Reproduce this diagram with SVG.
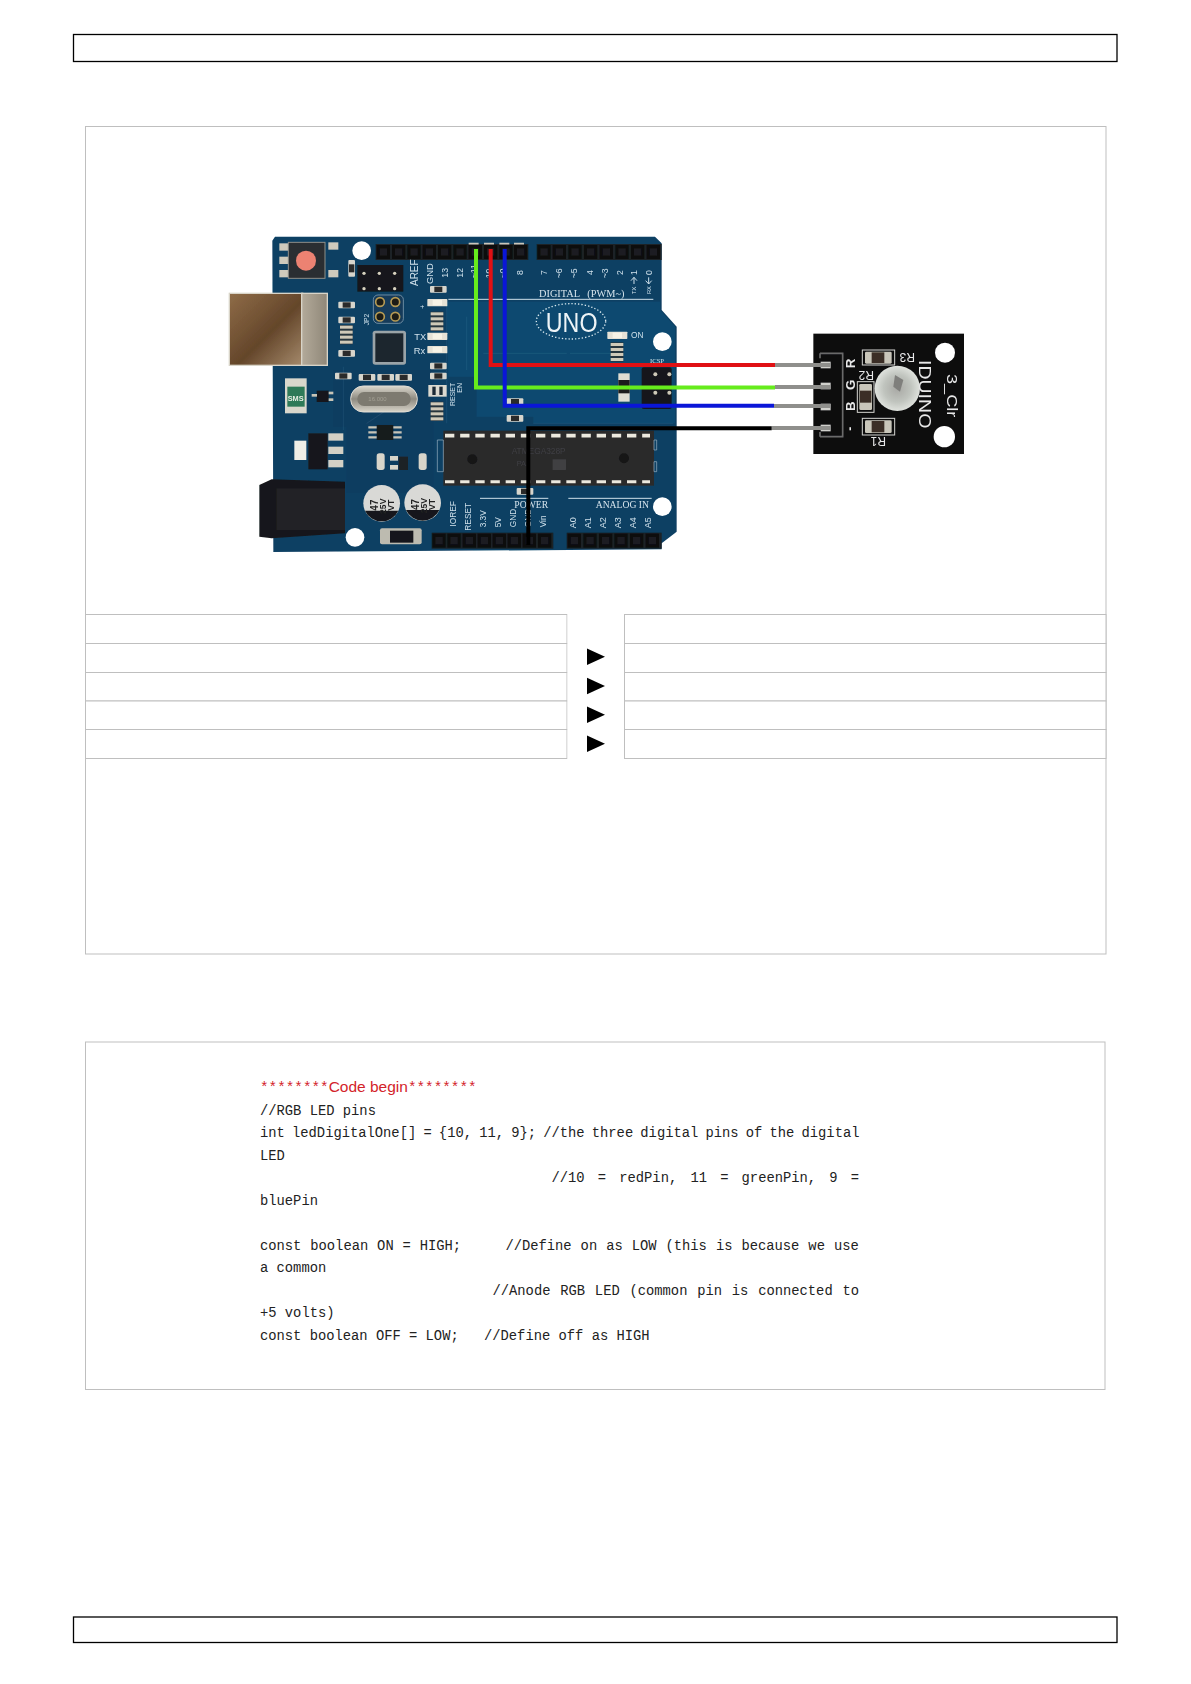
<svg xmlns="http://www.w3.org/2000/svg" width="1191" height="1684" viewBox="0 0 1191 1684">
<style>
.frame{fill:none;stroke:#000;stroke-width:1.3}
.cell{fill:#fff;stroke:#bfbfbf;stroke-width:1}
.code{font-family:"Liberation Mono","DejaVu Sans Mono",monospace;font-size:13.8px;fill:#222}
.red{fill:#d3232a}
.wire{fill:none;stroke-width:4;stroke-linejoin:miter}
.pin{stroke:#8f8f8c;stroke-width:4;fill:none}
.silk{font-family:"Liberation Sans",Arial,sans-serif;font-size:26px;fill:#cfe0ea}
.serif{font-family:"Liberation Serif","Times New Roman",serif;font-size:31px;fill:#d6e4ec}
.sline{stroke:#cfe0ea;stroke-width:3;fill:none}
.hole{fill:#fff}
.mod{font-family:"Liberation Sans",Arial,sans-serif;fill:#e8e8e8}
</style>
<defs>
<linearGradient id="usb" x1="0" y1="0" x2="1" y2="1"><stop offset="0" stop-color="#8f6c48"/><stop offset=".55" stop-color="#64462a"/><stop offset="1" stop-color="#a58a6c"/></linearGradient>
<linearGradient id="usb2" x1="0" y1="0" x2="1" y2="0"><stop offset="0" stop-color="#b3aa9a"/><stop offset="1" stop-color="#8f8778"/></linearGradient>
<linearGradient id="xtal" x1="0" y1="0" x2="0" y2="1"><stop offset="0" stop-color="#dcd8cd"/><stop offset=".5" stop-color="#8d8a80"/><stop offset="1" stop-color="#d8d4c9"/></linearGradient>
<radialGradient id="led"><stop offset="0" stop-color="#a8a8a4"/><stop offset=".6" stop-color="#c0c4be"/><stop offset="1" stop-color="#dfe2dd"/></radialGradient>
<filter id="soft" x="-5%" y="-5%" width="110%" height="110%"><feGaussianBlur stdDeviation="0.8"/></filter>
<g id="hp"><rect width="40" height="42" fill="#0b0d0f"/><rect x="9" y="10" width="22" height="22" fill="#1a1d20"/></g>
<g id="smd"><rect width="50" height="20" rx="3" fill="#d7d5cc"/><rect x="13" y="2" width="24" height="16" fill="#2a2a2a"/></g>
<g id="led0"><rect width="60" height="22" rx="2" fill="#e6e2d6"/><rect x="16" y="3" width="28" height="16" fill="#f7f3e6"/></g>
<g id="rn"><rect width="38" height="58" fill="#27343c"/><rect y="2" width="38" height="9" fill="#cfc9b8"/><rect y="17" width="38" height="9" fill="#cfc9b8"/><rect y="32" width="38" height="9" fill="#cfc9b8"/><rect y="47" width="38" height="9" fill="#cfc9b8"/></g>
<g id="cap"><circle r="55" fill="#d9d9d6"/><path d="M-50,22A55,55 0 0 0 50,22Z" fill="#15181b"/><text transform="translate(-12,22) rotate(-90)" font-family="Liberation Sans,sans-serif" font-size="30" font-weight="bold" fill="#222">47</text><text transform="translate(14,32) rotate(-90)" font-family="Liberation Sans,sans-serif" font-size="26" font-weight="bold" fill="#222">25V</text><text transform="translate(38,22) rotate(-90)" font-family="Liberation Sans,sans-serif" font-size="26" font-weight="bold" fill="#222">VT</text></g>
</defs>

<g id="page-header"><rect class="frame" x="73.5" y="34.5" width="1043.5" height="27"/></g>
<g id="page-footer"><rect class="frame" x="73.5" y="1617" width="1043.5" height="25.5"/></g>

<g id="wiring-panel">
<rect class="cell" x="85.5" y="126.5" width="1020.5" height="827.5"/>
</g>

<g id="pin-table">
<rect class="cell" x="85.5" y="614.5" width="481.5" height="29"/>
<rect class="cell" x="85.5" y="643.5" width="481.5" height="29"/>
<rect class="cell" x="85.5" y="672.5" width="481.5" height="28.5"/>
<rect class="cell" x="85.5" y="701" width="481.5" height="28.5"/>
<rect class="cell" x="85.5" y="729.5" width="481.5" height="29"/>
<rect class="cell" x="624.5" y="614.5" width="481.5" height="29"/>
<rect class="cell" x="624.5" y="643.5" width="481.5" height="29"/>
<rect class="cell" x="624.5" y="672.5" width="481.5" height="28.5"/>
<rect class="cell" x="624.5" y="701" width="481.5" height="28.5"/>
<rect class="cell" x="624.5" y="729.5" width="481.5" height="29"/>
<rect x="567.5" y="614" width="56.5" height="145" fill="#fff"/>
<path id="a1" d="M587,648.5L605,656.7L587,665Z" fill="#000"/>
<path id="a2" d="M587,677.7L605,686L587,694.2Z" fill="#000"/>
<path id="a3" d="M587,706.5L605,714.7L587,723Z" fill="#000"/>
<path id="a4" d="M587,735.5L605,743.7L587,752Z" fill="#000"/>
</g>

<g id="arduino-uno" transform="translate(200,210) scale(0.33333)" filter="url(#soft)">
<path d="M217,92L225,80H1365L1385,100V300L1430,350V965L1385,1000V1018L220,1026Z" fill="#0d4064"/>
<path d="M740,275H1380V300L1425,350V640H1000V620H830V500H745Z" fill="#0b4a70"/>
<path d="M400,480H700V650H400Z M440,650H700V850H440Z" fill="#0f3c60"/>
<path d="M740,275V640M800,320V480M1000,640H1420M1110,430H1240M850,430H1100M500,640L560,600M430,470V660" class="sline" stroke-opacity=".12" style="stroke:#7fb0cc"/>
<!-- headers -->
<rect x="527" y="102" width="458" height="48" fill="#1c2125"/>
<rect x="1010" y="102" width="375" height="48" fill="#1c2125"/>
<rect x="695" y="968" width="365" height="48" fill="#1c2125"/>
<rect x="1100" y="968" width="285" height="48" fill="#1c2125"/>
<use href="#hp" x="530" y="105"/><use href="#hp" x="576" y="105"/><use href="#hp" x="622" y="105"/><use href="#hp" x="668" y="105"/><use href="#hp" x="714" y="105"/><use href="#hp" x="760" y="105"/><use href="#hp" x="806" y="105"/><use href="#hp" x="852" y="105"/><use href="#hp" x="898" y="105"/><use href="#hp" x="942" y="105"/>
<use href="#hp" x="1012" y="105"/><use href="#hp" x="1058" y="105"/><use href="#hp" x="1105" y="105"/><use href="#hp" x="1152" y="105"/><use href="#hp" x="1199" y="105"/><use href="#hp" x="1246" y="105"/><use href="#hp" x="1293" y="105"/><use href="#hp" x="1340" y="105"/>
<use href="#hp" x="697" y="971"/><use href="#hp" x="742" y="971"/><use href="#hp" x="788" y="971"/><use href="#hp" x="833" y="971"/><use href="#hp" x="878" y="971"/><use href="#hp" x="923" y="971"/><use href="#hp" x="968" y="971"/><use href="#hp" x="1014" y="971"/>
<use href="#hp" x="1103" y="971"/><use href="#hp" x="1150" y="971"/><use href="#hp" x="1197" y="971"/><use href="#hp" x="1243" y="971"/><use href="#hp" x="1290" y="971"/><use href="#hp" x="1337" y="971"/>
<path d="M806,101h30M852,101h30M898,101h30M942,101h30" stroke="#c9c6ba" stroke-width="5"/>
<!-- holes -->
<circle class="hole" cx="485" cy="122" r="28"/><circle class="hole" cx="1387" cy="395" r="28"/><circle class="hole" cx="1387" cy="890" r="28"/><circle class="hole" cx="465" cy="982" r="28"/>
<!-- reset -->
<rect x="238" y="100" width="28" height="22" fill="#cfcabc"/><rect x="238" y="140" width="28" height="22" fill="#cfcabc"/><rect x="238" y="180" width="28" height="22" fill="#cfcabc"/><rect x="385" y="97" width="30" height="22" fill="#cfcabc"/><rect x="385" y="180" width="30" height="22" fill="#cfcabc"/>
<rect x="265" y="97" width="110" height="108" fill="#2b2f33" stroke="#8e8e88" stroke-width="3"/>
<circle cx="318" cy="152" r="30" fill="#ec8272"/>
<!-- USB -->
<rect x="88" y="250" width="220" height="216" fill="url(#usb)" stroke="#d8d4c8" stroke-width="4"/>
<rect x="305" y="250" width="77" height="216" fill="url(#usb2)" stroke="#d8d4c8" stroke-width="4"/>
<!-- ICSP1 / JP2 -->
<rect x="472" y="165" width="138" height="80" fill="#14181b"/>
<circle cx="492" cy="190" r="5" fill="#d8d2c0"/><circle cx="538" cy="190" r="5" fill="#d8d2c0"/><circle cx="584" cy="190" r="5" fill="#d8d2c0"/><circle cx="492" cy="236" r="5" fill="#d8d2c0"/><circle cx="538" cy="236" r="5" fill="#d8d2c0"/><circle cx="584" cy="236" r="5" fill="#d8d2c0"/>
<rect x="520" y="255" width="90" height="85" rx="14" fill="#123a5a" stroke="#9fb4c2" stroke-width="2"/>
<circle cx="540" cy="276" r="13" fill="#1a1a14" stroke="#b59a55" stroke-width="5"/><circle cx="586" cy="276" r="13" fill="#1a1a14" stroke="#b59a55" stroke-width="5"/><circle cx="540" cy="320" r="13" fill="#1a1a14" stroke="#b59a55" stroke-width="5"/><circle cx="586" cy="320" r="13" fill="#1a1a14" stroke="#b59a55" stroke-width="5"/>
<text class="silk" style="font-size:20px" transform="translate(508,346) rotate(-90)">JP2</text>
<!-- small parts -->
<use href="#smd" x="415" y="275"/><use href="#smd" x="415" y="320"/><use href="#smd" x="415" y="420"/><use href="#rn" x="420" y="345"/>
<use href="#smd" x="430" y="165" transform="rotate(90 455 175)"/><use href="#smd" x="690" y="228"/><use href="#led0" x="682" y="267"/><use href="#led0" x="682" y="368"/><use href="#led0" x="682" y="408"/><use href="#rn" x="692" y="305"/>
<use href="#smd" x="690" y="458"/><use href="#smd" x="690" y="488"/><use href="#smd" x="405" y="488"/><use href="#smd" x="476" y="492"/><use href="#smd" x="532" y="492"/><use href="#smd" x="586" y="492"/>
<use href="#smd" x="920" y="565"/><use href="#smd" x="920" y="615"/><use href="#smd" x="950" y="834"/><use href="#led0" x="1222" y="365"/><use href="#rn" x="1232" y="397"/><use href="#rn" x="692" y="575"/>
<rect x="1255" y="490" width="34" height="85" fill="#e0ddd2"/><rect x="1255" y="510" width="34" height="40" fill="#1c1c1c"/>
<rect x="685" y="525" width="55" height="35" fill="#dcdad0"/><rect x="697" y="530" width="10" height="25" fill="#1c2a36"/><rect x="718" y="530" width="10" height="25" fill="#1c2a36"/>
<!-- QFN chip -->
<rect x="518" y="362" width="100" height="102" rx="8" fill="#9aa4a8"/><rect x="526" y="370" width="84" height="86" fill="#1c262d"/>
<!-- crystal -->
<rect x="452" y="528" width="200" height="78" rx="38" fill="url(#xtal)" stroke="#e2dfd6" stroke-width="3"/><rect x="472" y="546" width="160" height="42" rx="20" fill="#7d7a70"/>
<text x="505" y="574" font-family="Liberation Sans,sans-serif" font-size="18" fill="#a3a094">16.000</text>
<!-- fuse -->
<rect x="255" y="505" width="65" height="105" fill="#d9d7cc"/><rect x="262" y="530" width="52" height="60" fill="#2f7a58"/>
<text x="287" y="572" text-anchor="middle" font-family="Liberation Sans,sans-serif" font-size="22" font-weight="bold" fill="#e8efe4">SMS</text>
<rect x="350" y="542" width="36" height="34" fill="#15181b"/><rect x="335" y="552" width="16" height="8" fill="#c8c4b6"/><rect x="386" y="545" width="14" height="8" fill="#c8c4b6"/><rect x="386" y="565" width="14" height="8" fill="#c8c4b6"/>
<!-- regulator -->
<rect x="325" y="670" width="58" height="108" fill="#16191c"/><rect x="385" y="670" width="45" height="22" fill="#d3d0c5"/><rect x="385" y="710" width="45" height="22" fill="#d3d0c5"/><rect x="385" y="750" width="45" height="22" fill="#d3d0c5"/><rect x="283" y="692" width="36" height="58" fill="#efeee6"/>
<rect x="530" y="645" width="50" height="45" fill="#171a1d"/><path d="M505,652h25M505,667h25M505,682h25M580,652h25M580,667h25M580,682h25" stroke="#c8c4b6" stroke-width="7"/>
<rect x="530" y="730" width="24" height="50" rx="8" fill="#d8d5ca"/><rect x="570" y="738" width="24" height="14" fill="#d8d5ca"/><rect x="570" y="765" width="24" height="14" fill="#d8d5ca"/><rect x="596" y="740" width="28" height="40" fill="#1c2125"/><rect x="656" y="730" width="24" height="50" rx="8" fill="#d8d5ca"/>
<!-- jack -->
<path d="M178,825L215,808L435,815V970L215,985L178,980Z" fill="#17181a"/>
<rect x="230" y="835" width="205" height="125" fill="#232427"/>
<!-- caps -->
<use href="#cap" x="545" y="880"/><use href="#cap" x="668" y="878"/>
<rect x="540" y="955" width="125" height="48" rx="6" fill="#bdbbb0"/><rect x="570" y="962" width="70" height="36" fill="#17191b"/>
<!-- ATmega -->
<rect x="730" y="662" width="632" height="165" fill="#2a2a2c"/>
<path d="M712,690h18v95h-18zM1362,690h8v30h-8zM1362,755h8v30h-8z" fill="none" stroke="#9fb4c2" stroke-width="2"/>
<path d="M735,677H1350" stroke="#ece9de" stroke-width="11" stroke-dasharray="28 17.5"/>
<path d="M735,815H1350" stroke="#ece9de" stroke-width="9" stroke-dasharray="28 17.5"/>
<circle cx="817" cy="748" r="15" fill="#151516"/><circle cx="1272" cy="745" r="15" fill="#151516"/>
<text x="935" y="733" font-family="Liberation Sans,sans-serif" font-size="25" fill="#3f3f42">ATMEGA328P</text>
<text x="950" y="768" font-family="Liberation Sans,sans-serif" font-size="22" fill="#3f3f42">PA1</text>
<rect x="1058" y="748" width="40" height="32" fill="#3f3f42"/>
<!-- ICSP2 -->
<rect x="1325" y="472" width="90" height="125" rx="6" fill="#16191c"/>
<circle cx="1366" cy="493" r="6" fill="#cfc9b8"/><circle cx="1408" cy="493" r="6" fill="#cfc9b8"/><circle cx="1366" cy="548" r="6" fill="#cfc9b8"/><circle cx="1408" cy="548" r="6" fill="#cfc9b8"/>
<text class="serif" x="1350" y="460" style="font-size:20px">ICSP</text>
<!-- silk -->
<path class="sline" d="M745,268H1360M840,865H1045M1105,865H1355"/>
<text class="silk" transform="translate(655,228) rotate(-90)" style="font-size:30px">AREF</text>
<text class="silk" transform="translate(698,222) rotate(-90)" style="font-size:28px">GND</text>
<text class="silk" transform="translate(743,203) rotate(-90)">13</text>
<text class="silk" transform="translate(788,203) rotate(-90)">12</text>
<text class="silk" transform="translate(832,205) rotate(-90)">~11</text>
<text class="silk" transform="translate(875,205) rotate(-90)">10</text>
<text class="silk" transform="translate(918,205) rotate(-90)">~9</text>
<text class="silk" transform="translate(968,195) rotate(-90)">8</text>
<text class="silk" transform="translate(1040,195) rotate(-90)">7</text>
<text class="silk" transform="translate(1086,205) rotate(-90)">~6</text>
<text class="silk" transform="translate(1132,205) rotate(-90)">~5</text>
<text class="silk" transform="translate(1178,195) rotate(-90)">4</text>
<text class="silk" transform="translate(1224,205) rotate(-90)">~3</text>
<text class="silk" transform="translate(1268,195) rotate(-90)">2</text>
<text class="silk" transform="translate(1312,195) rotate(-90)">1</text>
<text class="silk" transform="translate(1356,195) rotate(-90)">0</text>
<path class="sline" d="M1302,222V202M1293,212L1302,202L1311,212M1346,202V222M1337,212L1346,222L1355,212"/>
<text class="silk" style="font-size:17px" transform="translate(1309,252) rotate(-90)">TX</text>
<text class="silk" style="font-size:17px" transform="translate(1353,252) rotate(-90)">RX</text>
<text class="serif" x="1017" y="260">DIGITAL</text><text class="serif" x="1162" y="260">(PWM~)</text>
<ellipse cx="1113" cy="334" rx="104" ry="53" fill="none" stroke="#dbe8ef" stroke-width="4" stroke-dasharray="4 6"/>
<text x="1115" y="365" text-anchor="middle" font-family="Liberation Sans,sans-serif" font-size="84" fill="#eef4f7" textLength="155" lengthAdjust="spacingAndGlyphs">UNO</text>
<text class="silk" x="1293" y="385" style="font-size:25px">ON</text>
<text class="silk" x="643" y="391" style="font-size:28px">TX</text>
<text class="silk" x="641" y="432" style="font-size:28px">Rx</text>
<text class="silk" style="font-size:21px" transform="translate(765,588) rotate(-90)">RESET</text>
<text class="silk" style="font-size:21px" transform="translate(787,548) rotate(-90)">EN</text>
<text class="silk" x="664" y="296" style="font-size:20px" transform="rotate(-90 670 290)">+</text>
<text class="serif" x="943" y="895" style="font-size:29px">POWER</text>
<text class="serif" x="1187" y="895" style="font-size:29px">ANALOG  IN</text>
<text class="silk" style="font-size:25px" transform="translate(768,950) rotate(-90)">IOREF</text>
<text class="silk" style="font-size:25px" transform="translate(813,962) rotate(-90)">RESET</text>
<text class="silk" style="font-size:25px" transform="translate(858,952) rotate(-90)">3.3V</text>
<text class="silk" style="font-size:25px" transform="translate(903,952) rotate(-90)">5V</text>
<text class="silk" style="font-size:25px" transform="translate(948,952) rotate(-90)">GND</text>
<text class="silk" style="font-size:25px" transform="translate(993,952) rotate(-90)">GND</text>
<text class="silk" style="font-size:25px" transform="translate(1038,952) rotate(-90)">Vin</text>
<text class="silk" style="font-size:27px" transform="translate(1128,955) rotate(-90)">A0</text>
<text class="silk" style="font-size:27px" transform="translate(1173,955) rotate(-90)">A1</text>
<text class="silk" style="font-size:27px" transform="translate(1218,955) rotate(-90)">A2</text>
<text class="silk" style="font-size:27px" transform="translate(1263,955) rotate(-90)">A3</text>
<text class="silk" style="font-size:27px" transform="translate(1308,955) rotate(-90)">A4</text>
<text class="silk" style="font-size:27px" transform="translate(1353,955) rotate(-90)">A5</text>
</g>

<g id="rgb-led-module" transform="translate(650,300) scale(0.33333)" filter="url(#soft)">
<rect x="490" y="101" width="452" height="361" fill="#0e0e10"/>
<circle class="hole" cx="885" cy="158" r="30"/><circle class="hole" cx="883" cy="410" r="32"/>
<path d="M510,160H578V410H510" fill="none" stroke="#6a6a6a" stroke-width="5"/>
<path d="M510,175V160M510,410V396" stroke="#6a6a6a" stroke-width="5"/>
<rect x="512" y="185" width="30" height="20" fill="#d0d0cc"/><rect x="512" y="248" width="30" height="20" fill="#d0d0cc"/><rect x="512" y="311" width="30" height="20" fill="#d0d0cc"/><rect x="512" y="374" width="30" height="20" fill="#d0d0cc"/>
<g fill="none" stroke="#d4d4d0" stroke-width="3"><rect x="637" y="150" width="97" height="45"/><rect x="637" y="355" width="97" height="50"/><rect x="622" y="245" width="50" height="92"/></g>
<rect x="645" y="155" width="80" height="36" rx="4" fill="#c9c6ba"/><rect x="665" y="157" width="38" height="32" fill="#3a2f25"/>
<rect x="645" y="361" width="80" height="38" rx="4" fill="#c9c6ba"/><rect x="665" y="363" width="38" height="34" fill="#3a2f25"/>
<rect x="628" y="252" width="38" height="78" rx="4" fill="#c9c6ba"/><rect x="630" y="272" width="34" height="36" fill="#3a2f25"/>
<circle cx="742" cy="265" r="68" fill="url(#led)"/>
<path d="M735,225L760,240L750,275L730,260Z" fill="#7f7f7c"/>
<text class="mod" font-size="40" font-weight="bold" transform="translate(614,205) rotate(-90)">R</text>
<text class="mod" font-size="40" font-weight="bold" transform="translate(614,270) rotate(-90)">G</text>
<text class="mod" font-size="40" font-weight="bold" transform="translate(614,333) rotate(-90)">B</text>
<text class="mod" font-size="36" font-weight="bold" transform="translate(612,392) rotate(-90)">-</text>
<text class="mod" font-size="36" transform="translate(795,158) rotate(180)">R3</text>
<text class="mod" font-size="36" transform="translate(708,412) rotate(180)">R1</text>
<text class="mod" font-size="36" transform="translate(672,212) rotate(180)">R2</text>
<text class="mod" font-size="52" transform="translate(806,180) rotate(90)" textLength="205" lengthAdjust="spacingAndGlyphs">IDUINO</text>
<text class="mod" font-size="46" transform="translate(892,222) rotate(90)" textLength="130" lengthAdjust="spacingAndGlyphs">3_Clr</text>
</g>

<g id="connectors">
<path class="pin" d="M775,365H830"/><path class="pin" d="M775,387H830"/><path class="pin" d="M774,406H830"/><path class="pin" d="M771.7,428H830"/>
<path class="wire" stroke="#e01014" d="M490.7,249V365H775"/>
<path class="wire" stroke="#66ec1c" d="M476,249V387.5H775"/>
<path class="wire" stroke="#0a16d8" d="M504.7,249V405.7H774"/>
<path class="wire" stroke="#000" d="M528.3,545V428.3H771.7"/>
</g>

<g id="code-panel">
<rect class="cell" x="85.5" y="1042" width="1019.5" height="347.5"/>
<text x="260" y="1092" class="code red" style="font-size:14.3px">********<tspan style="font-family:'Liberation Sans',Arial,sans-serif;font-size:15.5px">Code begin</tspan>********</text>
<text x="260" y="1114.5" class="code">//RGB LED pins</text>
<text x="260" y="1137" class="code" style="word-spacing:-1.1px">int ledDigitalOne[] = {10, 11, 9}; //the three digital pins of the digital</text>
<text x="260" y="1159.5" class="code">LED</text>
<text x="551.5" y="1182" class="code" style="word-spacing:4.9px">//10 = redPin, 11 = greenPin, 9 =</text>
<text x="260" y="1204.5" class="code">bluePin</text>
<text x="260" y="1249.5" class="code" style="word-spacing:.6px">const boolean ON = HIGH;</text>
<text x="505.4" y="1249.5" class="code" style="word-spacing:.7px">//Define on as LOW (this is because we use</text>
<text x="260" y="1272" class="code">a common</text>
<text x="492.5" y="1294.5" class="code" style="word-spacing:1.5px">//Anode RGB LED (common pin is connected to</text>
<text x="260" y="1317" class="code">+5 volts)</text>
<text x="260" y="1339.5" class="code">const boolean OFF = LOW;</text>
<text x="484" y="1339.5" class="code">//Define off as HIGH</text>
</g>
</svg>
